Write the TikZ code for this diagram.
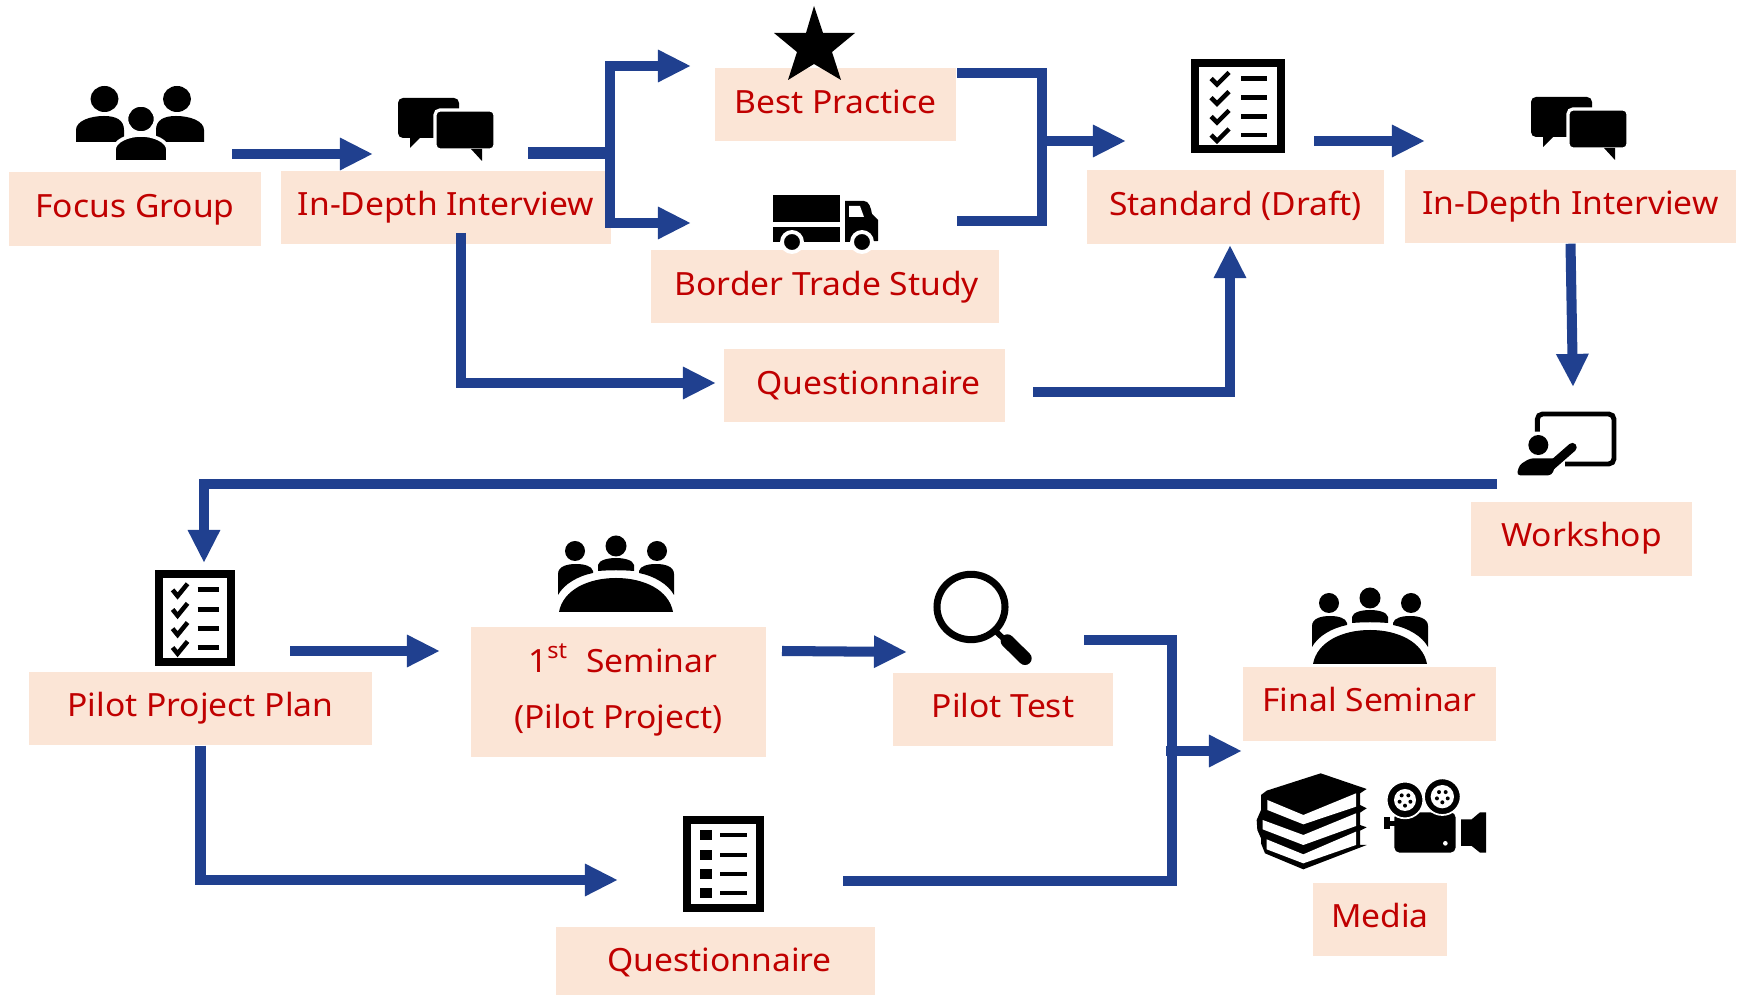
\documentclass[tikz,border=0pt]{standalone}
\usepackage{fontspec}
\setmainfont[FakeStretch=1.05]{Noto Sans}
\usetikzlibrary{arrows.meta}
\definecolor{boxfill}{HTML}{FBE5D6}
\definecolor{boxtext}{HTML}{C00000}
\definecolor{flowblue}{HTML}{20408F}
\tikzset{
  stepbox/.style={fill=boxfill,text=boxtext,inner sep=0pt,minimum height=7.3mm,
    font=\fontsize{9.1}{10.9}\selectfont,text height=8pt,text depth=3.7pt},
  flowline/.style={draw=flowblue,line width=2.85pt},
  flow/.style={flowline,-{Triangle[length=9.4pt,width=8.6pt]}},
  whitecut/.style={draw=white,line width=.9pt},
  pics/chaticon/.style={code={
    \fill[rounded corners=1.4pt] (0,0) rectangle (61,40);
    \fill (12,38) -- (12,50) -- (24,38) -- cycle;
    \filldraw[whitecut,fill=black,rounded corners=1.4pt] (37,12) rectangle (97,52);
    \fill (73,51) -- (84,63) -- (84,51) -- cycle;
  }},
  pics/checkicon/.style={code={
    \draw[line width=2.2pt] (4,4) rectangle (90,90);
    \foreach \r in {19.5,38.7,57.5,76} {
      \draw[line width=1.3pt] (20,\r) -- (26,\r+6) -- (38,\r-6);
      \draw[line width=1.4pt] (50,\r) -- (76,\r);
    }
  }},
  pics/meetingicon/.style={code={
    \fill (-57,0) .. controls (-53,-22) and (-28,-34) .. (0,-34) .. controls (28,-34) and (53,-22) .. (57,0) -- cycle;
    \fill (-58,-17) -- (-58,-38) .. controls (-58,-46) and (-48,-48) .. (-40,-48) .. controls (-32,-48) and (-24,-46) .. (-23,-41) -- (-23,-39) .. controls (-38,-36) and (-52,-28) .. (-58,-17) -- cycle;
    \fill (58,-17) -- (58,-38) .. controls (58,-46) and (48,-48) .. (40,-48) .. controls (32,-48) and (24,-46) .. (23,-41) -- (23,-39) .. controls (38,-36) and (52,-28) .. (58,-17) -- cycle;
    \fill (-18,-41) -- (-18,-47) .. controls (-17,-52) and (-8,-54) .. (0,-54) .. controls (8,-54) and (17,-52) .. (18,-47) -- (18,-41) .. controls (6,-42) and (-6,-42) .. (-18,-41) -- cycle;
    \fill (-41,-61) circle (10);
    \fill (0,-66) circle (10.5);
    \fill (41,-61) circle (10);
  }}
}
\begin{document}
\begin{tikzpicture}[x=0.01cm,y=-0.01cm]
  \useasboundingbox (0,0) rectangle (1739,995);

  % Boxes
  \node[stepbox,minimum width=25.2mm,text depth=3.2pt] (focus) at (135,209) {Focus Group};
  \node[stepbox,minimum width=33mm] (interviewa) at (446,207.5) {In-Depth Interview};
  \node[stepbox,minimum width=24.1mm,text depth=3.1pt] (best) at (835.5,104.5) {Best Practice};
  \node[stepbox,minimum width=34.8mm,text depth=2.9pt] (border) at (825,286.5) {\hspace*{1pt}Border Trade Study};
  \node[stepbox,minimum width=28.1mm,text depth=2.6pt] (questa) at (864.5,385.5) {\hspace*{2.4pt}Questionnaire};
  \node[stepbox,minimum width=29.7mm,text depth=2.9pt] (draft) at (1235.5,207) {Standard (Draft)};
  \node[stepbox,minimum width=33.1mm,text depth=3.7pt] (interviewb) at (1570.5,206.5) {In-Depth Interview};
  \node[stepbox,minimum width=22.1mm] (workshop) at (1581.5,539) {Workshop};
  \node[stepbox,minimum width=34.3mm] (plan) at (200.5,708.5) {Pilot Project Plan};
  \node[stepbox,minimum width=29.5mm,minimum height=13mm,text height=,text depth=3.4pt,align=center] (seminar) at (618.5,692)
    {\hspace*{2.4pt}1\textsuperscript{st}\ \ Seminar\\[5pt](Pilot Project)};
  \node[stepbox,minimum width=22mm] (pilottest) at (1003,709.5) {Pilot Test};
  \node[stepbox,minimum width=25.3mm] (final) at (1369.5,704) {Final Seminar};
  \node[stepbox,minimum width=13.4mm] (media) at (1380,919.5) {Media};
  \node[stepbox,minimum width=31.9mm,minimum height=6.8mm,text depth=2.2pt] (questb) at (715.5,961) {\hspace*{2.4pt}Questionnaire};

  % Connector ends
  \coordinate (focusout) at (232,154);
  \coordinate (interviewin) at (373,154);
  \coordinate (branchout) at (528,153);
  \coordinate (branch) at (610,153);
  \coordinate (branchend) at (614,153);
  \coordinate (bestin) at (691,66);
  \coordinate (borderin) at (691,223);
  \coordinate (interviewout) at (461,233);
  \coordinate (questain) at (716,383);
  \coordinate (bestout) at (957,73);
  \coordinate (borderout) at (957,221);
  \coordinate (merge) at (1042,141);
  \coordinate (draftin) at (1126,141);
  \coordinate (draftout) at (1314,141);
  \coordinate (interviewbin) at (1425,141);
  \coordinate (questaout) at (1033,392);
  \coordinate (draftbelow) at (1230,245);
  \coordinate (workshopin) at (1573,387);
  \coordinate (workshopout) at (1497,484);
  \coordinate (turn) at (204,484);
  \coordinate (planin) at (204,563);
  \coordinate (planout) at (290,651);
  \coordinate (seminarin) at (440,651);
  \coordinate (seminarout) at (782,651);
  \coordinate (testin) at (907,652);
  \coordinate (testout) at (1084,640);
  \coordinate (joint) at (1172,640);
  \coordinate (questbout) at (843,881);
  \coordinate (questbin) at (618,880);
  \coordinate (jointa) at (1166,751);
  \coordinate (finalin) at (1242,751);

  % Connectors
  \draw[flow] (focusout) -- (interviewin);
  \draw[flowline,line width=3.4pt] (branchout) -- (branchend);
  \draw[flow] (branch) |- (bestin);
  \draw[flow] (branch) |- (borderin);
  \draw[flow] (interviewout) |- (questain);
  \draw[flowline] (bestout) -| (merge);
  \draw[flowline] (borderout) -| (merge);
  \draw[flow] (merge) -- (draftin);
  \draw[flow] (draftout) -- (interviewbin);
  \draw[flow] (questaout) -| (draftbelow);
  \draw[flow] (interviewb.south) -- (workshopin);
  \draw[flow] (workshopout) -- (turn) -- (planin);
  \draw[flow] (planout) -- (seminarin);
  \draw[flow] (seminarout) -- (testin);
  \draw[flow] (plan.south) |- (questbin);
  \draw[flowline] (testout) -- (joint) |- (questbout);
  \draw[flow] (jointa) -- (finalin);

  % Focus group people
  \begin{scope}
  \fill (104.5,99) ellipse [x radius=14,y radius=13];
  \fill (177,99) ellipse [x radius=14,y radius=13];
  \fill (76,142) -- (76,130) .. controls (76,121) and (90,116) .. (104,116) .. controls (116,116) and (124,120) .. (124,130) -- (124,142) -- cycle;
  \fill (204,142) -- (204,130) .. controls (204,121) and (190,116) .. (176,116) .. controls (164,116) and (156,120) .. (156,130) -- (156,142) -- cycle;
  \filldraw[whitecut,fill=black,line width=1pt] (114,162) -- (114,150) .. controls (114,141) and (128,135) .. (141,135) .. controls (154,135) and (168,141) .. (168,150) -- (168,162) -- cycle;
  \filldraw[whitecut,fill=black,line width=1pt] (141,119) ellipse [x radius=14.5,y radius=14];
  \end{scope}

  % Chat icons, checklist icons, meeting icons
  \pic at (398,98) {chaticon};
  \pic at (1531,97) {chaticon};
  \pic at (1191,59) {checkicon};
  \pic[xscale=.83,yscale=1.02] at (156,570) {checkicon};
  \pic at (616,612) {meetingicon};
  \pic at (1370,664) {meetingicon};

  % Star
  \fill (814,6) -- (823,33) -- (855,33) -- (832,52) -- (841,80) -- (814,64) -- (788,80) -- (797,52) -- (774,33) -- (806,33) -- cycle;

  % Truck
  \fill (773,195) rectangle (840,222);
  \fill (773,227) rectangle (840,242);
  \fill (845,201) -- (864,201) .. controls (869,201) and (871,208) .. (872,214) -- (878,220) -- (878,241) -- (845,242) -- cycle;
  \fill[white] (849,206) -- (860,206) -- (864,217) -- (849,217) -- cycle;
  \filldraw[whitecut,fill=black,line width=1.1pt] (792,242) circle (10);
  \filldraw[whitecut,fill=black,line width=1.1pt] (862,242) circle (10);

  % Workshop teacher
  \begin{scope}[shift={(1500,400)},scale=1/3]
  \draw[line width=1.4pt,rounded corners=1.5pt] (112,95) -- (112,42) -- (342,42) -- (342,192) -- (195,192);
  \fill (115,135) circle (30);
  \fill[rounded corners=1pt] (50,226) -- (58,195) -- (90,175) -- (135,175) -- (175,175) -- (155,226) -- cycle;
  \draw[line width=2.5pt,line cap=round] (145,205) -- (217,142);
  \end{scope}

  % Second questionnaire list
  \draw[line width=2.3pt] (687,820) rectangle (760,908);
  \foreach \r in {835,855,874,893} {
    \fill (700,\r-5) rectangle (712,\r+5);
    \draw[line width=1.4pt] (720,\r) -- (747,\r);
  }

  % Magnifier
  \begin{scope}[shift={(920,560)},scale=1/3]
  \draw[line width=2pt] (153,141) ellipse [x radius=102,y radius=98];
  \draw[line width=1.6pt] (225,212) -- (255,240);
  \draw[line width=3.8pt,line cap=round] (262,243) -- (315,295);
  \end{scope}

  % Books and camera
  \begin{scope}[shift={(1250,580)},scale=1/3]
  \fill (212,580) -- (350,627) -- (330,640) -- (330,675) -- (350,685) -- (330,698) -- (330,735) -- (350,742) -- (330,752) -- (330,795) -- (350,795) -- (160,868) -- (45,820) -- (33,790) -- (33,775) -- (22,750) -- (20,720) -- (33,690) -- (33,645) -- (50,632) -- cycle;
  \fill[white] (52,660) -- (160,705) -- (318,640) -- (318,680) -- (160,733) -- (52,690) -- cycle;
  \fill[white] (38,720) -- (160,765) -- (318,700) -- (318,738) -- (160,795) -- (38,748) -- cycle;
  \fill[white] (50,778) -- (160,823) -- (318,755) -- (318,795) -- (160,850) -- (50,808) -- cycle;
  \fill[rounded corners=1.5pt] (433,697) rectangle (617,818);
  \fill (403,712) rectangle (420,748);
  \fill (420,722) rectangle (440,738);
  \fill (633,718) -- (665,718) -- (690,697) -- (708,697) -- (708,818) -- (690,818) -- (665,798) -- (633,798) -- cycle;
  \fill[white] (586,790) circle (7);
  \filldraw[whitecut,fill=black,line width=.5pt] (465,660) circle (55);
  \fill[white] (465,660) circle (33);
  \filldraw[whitecut,fill=black,line width=.5pt] (577,650) circle (55);
  \fill[white] (577,650) circle (35);
  \foreach \cx/\cy in {465/660,577/650} {
    \foreach \a in {18,90,162,234,306} {
      \fill (\cx,\cy) ++(\a:17) circle (6);
    }
  }
  \end{scope}
\end{tikzpicture}
\end{document}
